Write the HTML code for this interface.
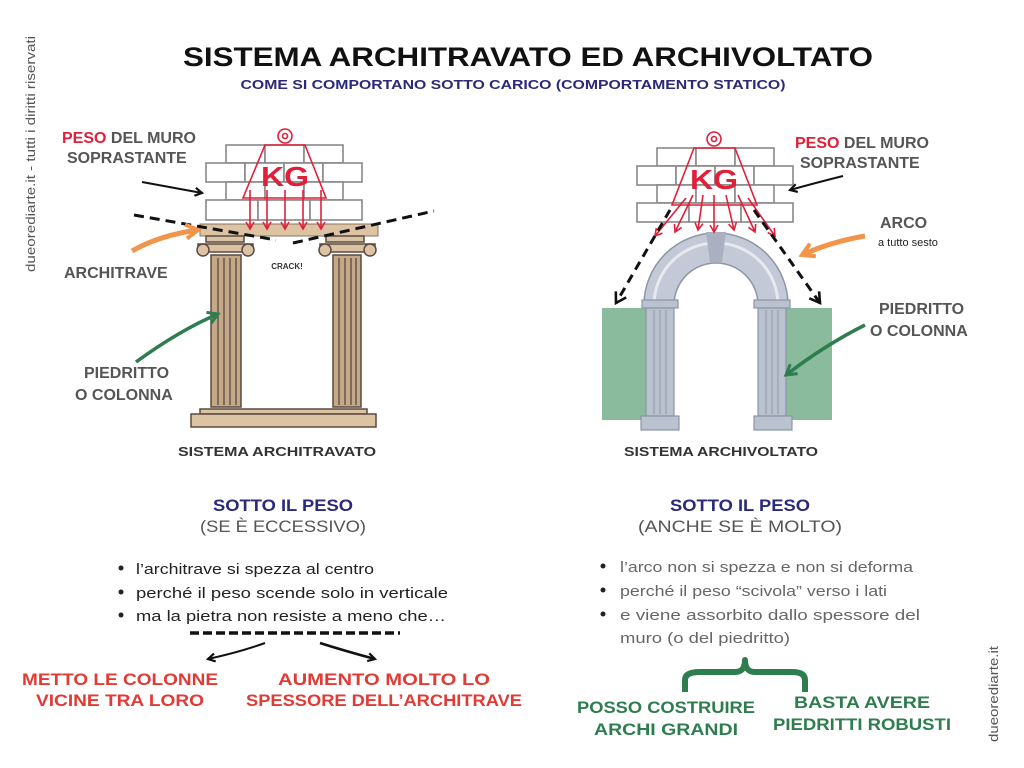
<!DOCTYPE html>
<html><head><meta charset="utf-8"><style>
html,body{margin:0;padding:0;background:#fff;}
svg{display:block;font-family:"Liberation Sans",sans-serif;}
</style></head><body>
<svg width="1024" height="768" viewBox="0 0 1024 768" xmlns="http://www.w3.org/2000/svg">
<defs>
<marker id="ab" markerWidth="10" markerHeight="10" refX="8" refY="5" orient="auto" markerUnits="userSpaceOnUse"><path d="M1,1 L8,5 L1,9" fill="none" stroke="#111" stroke-width="2.2"/></marker>
<marker id="ar" markerWidth="10" markerHeight="10" refX="8" refY="5" orient="auto" markerUnits="userSpaceOnUse"><path d="M1,1 L8,5 L1,9" fill="none" stroke="#e0203a" stroke-width="1.6"/></marker>
<marker id="ao" markerWidth="18" markerHeight="18" refX="14" refY="9" orient="auto" markerUnits="userSpaceOnUse"><path d="M2,2 L14,9 L2,16" fill="none" stroke="#f2954a" stroke-width="4"/></marker>
<marker id="ag" markerWidth="16" markerHeight="16" refX="12" refY="8" orient="auto" markerUnits="userSpaceOnUse"><path d="M2,2 L12,8 L2,14" fill="none" stroke="#2e7d4f" stroke-width="3"/></marker>
<marker id="ad" markerWidth="16" markerHeight="16" refX="12" refY="8" orient="auto" markerUnits="userSpaceOnUse"><path d="M2,2 L12,8 L2,14" fill="none" stroke="#111" stroke-width="2.6"/></marker>
</defs>

<text x="528" y="66" text-anchor="middle" font-size="27" font-weight="bold" fill="#111" textLength="690" lengthAdjust="spacingAndGlyphs">SISTEMA ARCHITRAVATO ED ARCHIVOLTATO</text>
<text x="513" y="89" text-anchor="middle" font-size="13" font-weight="bold" fill="#2b2a7a" textLength="545" lengthAdjust="spacingAndGlyphs">COME SI COMPORTANO SOTTO CARICO (COMPORTAMENTO STATICO)</text>

<text transform="translate(35,272) rotate(-90)" font-size="13" fill="#555" textLength="236" lengthAdjust="spacingAndGlyphs">dueorediarte.it - tutti i diritti riservati</text>
<text transform="translate(998,742) rotate(-90)" font-size="13" fill="#555" textLength="96" lengthAdjust="spacingAndGlyphs">dueorediarte.it</text>

<!-- LEFT DIAGRAM -->
<g stroke="#888" stroke-width="1.6" fill="#fff">
<rect x="226" y="145" width="39" height="18"/><rect x="265" y="145" width="39" height="18"/><rect x="304" y="145" width="39" height="18"/>
<rect x="206" y="163" width="39" height="19"/><rect x="245" y="163" width="39" height="19"/><rect x="284" y="163" width="39" height="19"/><rect x="323" y="163" width="39" height="19"/>
<rect x="226" y="182" width="39" height="18"/><rect x="265" y="182" width="39" height="18"/><rect x="304" y="182" width="39" height="18"/>
<rect x="206" y="200" width="52" height="20"/><rect x="258" y="200" width="52" height="20"/><rect x="310" y="200" width="52" height="20"/>
</g>
<rect x="200" y="224" width="178" height="12" fill="#dcc3a3" stroke="#8a7360"/>
<g fill="#dcc3a3" stroke="#5a4a40" stroke-width="1.5">
<rect x="206" y="236" width="38" height="6"/><rect x="326" y="236" width="38" height="6"/>
<path d="M198,244 h55 v8 h-55z"/><path d="M320,244 h55 v8 h-55z"/>
<circle cx="203" cy="250" r="6"/><circle cx="248" cy="250" r="6"/><circle cx="325" cy="250" r="6"/><circle cx="370" cy="250" r="6"/>
<rect x="211" y="255" width="30" height="152" fill="#c4a888"/><rect x="333" y="255" width="28" height="152" fill="#c4a888"/>
<rect x="200" y="409" width="167" height="5"/><rect x="191" y="414" width="185" height="13"/>
</g>
<g stroke="#5a4a40" stroke-width="1.3"><line x1="218" y1="258" x2="218" y2="405"/><line x1="224" y1="258" x2="224" y2="405"/><line x1="230" y1="258" x2="230" y2="405"/><line x1="236" y1="258" x2="236" y2="405"/>
<line x1="339" y1="258" x2="339" y2="405"/><line x1="345" y1="258" x2="345" y2="405"/><line x1="351" y1="258" x2="351" y2="405"/><line x1="356" y1="258" x2="356" y2="405"/></g>
<g stroke="#e0203a" stroke-width="1.6" fill="none">
<circle cx="285" cy="136" r="7"/><circle cx="285" cy="136" r="2.5"/>
<path d="M265,145 L305,145 L326,198 L243,198 Z"/>
<line x1="250" y1="190" x2="250" y2="229" marker-end="url(#ar)"/><line x1="267" y1="190" x2="267" y2="229" marker-end="url(#ar)"/><line x1="285" y1="190" x2="285" y2="229" marker-end="url(#ar)"/><line x1="303" y1="190" x2="303" y2="229" marker-end="url(#ar)"/><line x1="321" y1="190" x2="321" y2="229" marker-end="url(#ar)"/>
</g>
<text x="285" y="186" text-anchor="middle" font-size="28" font-weight="bold" fill="#e0203a" textLength="48" lengthAdjust="spacingAndGlyphs">KG</text>
<path d="M134,215 L276,240" stroke="#111" stroke-width="3" stroke-dasharray="10,6"/>
<path d="M293,243 L434,211" stroke="#111" stroke-width="3" stroke-dasharray="10,6"/>
<text x="287" y="269" text-anchor="middle" font-size="8" font-weight="bold" fill="#333">CRACK!</text>
<path d="M142,182 Q175,188 202,193" stroke="#111" stroke-width="2" fill="none" marker-end="url(#ab)"/>
<path d="M132,251 Q160,235 198,230" stroke="#f2954a" stroke-width="5" fill="none" marker-end="url(#ao)"/>
<path d="M136,362 Q180,330 218,314" stroke="#2e7d4f" stroke-width="3.5" fill="none" marker-end="url(#ag)"/>
<text x="62" y="143" font-size="16" font-weight="bold" fill="#e0203a">PESO <tspan fill="#555">DEL MURO</tspan></text>
<text x="67" y="163" font-size="16" font-weight="bold" fill="#555">SOPRASTANTE</text>
<text x="64" y="278" font-size="16" font-weight="bold" fill="#555">ARCHITRAVE</text>
<text x="84" y="378" font-size="16" font-weight="bold" fill="#555">PIEDRITTO</text>
<text x="75" y="400" font-size="16" font-weight="bold" fill="#555">O COLONNA</text>
<text x="277" y="456" text-anchor="middle" font-size="13" font-weight="bold" fill="#333" textLength="198" lengthAdjust="spacingAndGlyphs">SISTEMA ARCHITRAVATO</text>

<!-- RIGHT DIAGRAM -->
<rect x="602" y="308" width="44" height="112" fill="#89bb9c"/>
<rect x="786" y="308" width="46" height="112" fill="#89bb9c"/>
<path d="M644,305 A72,72 0 0 1 788,305 L758,305 A42,42 0 0 0 674,305 Z" fill="#c3c9d6" stroke="#8d95a6" stroke-width="1.5"/>
<path d="M654,305 A62,62 0 0 1 778,305" fill="none" stroke="#e6e9ef" stroke-width="3"/>
<path d="M706,232 L726,232 L722,262 L710,262 Z" fill="#a9b0bf"/>
<g fill="#bac1cf" stroke="#8d95a6" stroke-width="1.2">
<rect x="642" y="300" width="36" height="8"/><rect x="754" y="300" width="36" height="8"/>
<rect x="646" y="308" width="28" height="108"/><rect x="758" y="308" width="28" height="108"/>
<rect x="641" y="416" width="38" height="14"/><rect x="754" y="416" width="38" height="14"/>
</g>
<g stroke="#8d95a6" stroke-width="1"><line x1="654" y1="310" x2="654" y2="414"/><line x1="660" y1="310" x2="660" y2="414"/><line x1="666" y1="310" x2="666" y2="414"/><line x1="766" y1="310" x2="766" y2="414"/><line x1="772" y1="310" x2="772" y2="414"/><line x1="778" y1="310" x2="778" y2="414"/></g>
<g stroke="#888" stroke-width="1.6" fill="#fff">
<rect x="657" y="148" width="39" height="18"/><rect x="696" y="148" width="39" height="18"/><rect x="735" y="148" width="39" height="18"/>
<rect x="637" y="166" width="39" height="19"/><rect x="676" y="166" width="39" height="19"/><rect x="715" y="166" width="39" height="19"/><rect x="754" y="166" width="39" height="19"/>
<rect x="657" y="185" width="39" height="18"/><rect x="696" y="185" width="39" height="18"/><rect x="735" y="185" width="39" height="18"/>
<rect x="637" y="203" width="52" height="19"/><rect x="689" y="203" width="52" height="19"/><rect x="741" y="203" width="52" height="19"/>
</g>
<g stroke="#e0203a" stroke-width="1.6" fill="none">
<circle cx="714" cy="139" r="7"/><circle cx="714" cy="139" r="2.5"/>
<path d="M694,148 L735,148 L757,205 L672,205 Z"/>
<path d="M686,198 L655,236" marker-end="url(#ar)"/><path d="M693,195 L675,232" marker-end="url(#ar)"/><path d="M703,195 L698,230" marker-end="url(#ar)"/><path d="M714,195 L714,232" marker-end="url(#ar)"/><path d="M726,195 L734,230" marker-end="url(#ar)"/><path d="M738,195 L755,232" marker-end="url(#ar)"/><path d="M748,198 L775,236" marker-end="url(#ar)"/>
</g>
<text x="714" y="189" text-anchor="middle" font-size="28" font-weight="bold" fill="#e0203a" textLength="48" lengthAdjust="spacingAndGlyphs">KG</text>
<path d="M670,210 L616,303" stroke="#111" stroke-width="3" stroke-dasharray="9,6" fill="none" marker-end="url(#ad)"/>
<path d="M754,210 L820,303" stroke="#111" stroke-width="3" stroke-dasharray="9,6" fill="none" marker-end="url(#ad)"/>
<path d="M843,176 Q815,183 790,190" stroke="#111" stroke-width="2" fill="none" marker-end="url(#ab)"/>
<path d="M865,236 Q830,242 802,255" stroke="#f2954a" stroke-width="5" fill="none" marker-end="url(#ao)"/>
<path d="M865,325 Q825,345 786,375" stroke="#2e7d4f" stroke-width="3.5" fill="none" marker-end="url(#ag)"/>
<text x="795" y="148" font-size="16" font-weight="bold" fill="#e0203a">PESO <tspan fill="#555">DEL MURO</tspan></text>
<text x="800" y="168" font-size="16" font-weight="bold" fill="#555">SOPRASTANTE</text>
<text x="880" y="228" font-size="16" font-weight="bold" fill="#555">ARCO</text>
<text x="878" y="246" font-size="11" fill="#222">a tutto sesto</text>
<text x="879" y="314" font-size="16" font-weight="bold" fill="#555">PIEDRITTO</text>
<text x="870" y="336" font-size="16" font-weight="bold" fill="#555">O COLONNA</text>
<text x="721" y="456" text-anchor="middle" font-size="13" font-weight="bold" fill="#333" textLength="194" lengthAdjust="spacingAndGlyphs">SISTEMA ARCHIVOLTATO</text>

<!-- LOWER LEFT -->
<text x="283" y="511" text-anchor="middle" font-size="17" font-weight="bold" fill="#2b2a7a" textLength="140" lengthAdjust="spacingAndGlyphs">SOTTO IL PESO</text>
<text x="283" y="532" text-anchor="middle" font-size="17" fill="#555" textLength="166" lengthAdjust="spacingAndGlyphs">(SE È ECCESSIVO)</text>
<g font-size="15" fill="#222">
<circle cx="121" cy="568" r="2.5"/><text x="136" y="574" textLength="238" lengthAdjust="spacingAndGlyphs">l’architrave si spezza al centro</text>
<circle cx="121" cy="592" r="2.5"/><text x="136" y="598" textLength="312" lengthAdjust="spacingAndGlyphs">perché il peso scende solo in verticale</text>
<circle cx="121" cy="615" r="2.5"/><text x="136" y="621" textLength="310" lengthAdjust="spacingAndGlyphs">ma la pietra non resiste a meno che…</text>
</g>
<path d="M190,633 L400,633" stroke="#111" stroke-width="3.5" stroke-dasharray="9,4"/>
<path d="M265,643 Q240,652 208,659" stroke="#111" stroke-width="2" fill="none" marker-end="url(#ab)"/>
<path d="M320,643 Q345,651 375,659" stroke="#111" stroke-width="2.5" fill="none" marker-end="url(#ab)"/>
<g font-size="17" font-weight="bold" fill="#e23a35" text-anchor="middle">
<text x="120" y="685" textLength="196" lengthAdjust="spacingAndGlyphs">METTO LE COLONNE</text>
<text x="120" y="706" textLength="168" lengthAdjust="spacingAndGlyphs">VICINE TRA LORO</text>
<text x="384" y="685" textLength="212" lengthAdjust="spacingAndGlyphs">AUMENTO MOLTO  LO</text>
<text x="384" y="706" textLength="276" lengthAdjust="spacingAndGlyphs">SPESSORE DELL’ARCHITRAVE</text>
</g>

<!-- LOWER RIGHT -->
<text x="740" y="511" text-anchor="middle" font-size="17" font-weight="bold" fill="#2b2a7a" textLength="140" lengthAdjust="spacingAndGlyphs">SOTTO IL PESO</text>
<text x="740" y="532" text-anchor="middle" font-size="17" fill="#555" textLength="204" lengthAdjust="spacingAndGlyphs">(ANCHE SE È MOLTO)</text>
<g font-size="15" fill="#666">
<circle cx="603" cy="566" r="2.5" fill="#222"/><text x="620" y="572" textLength="293" lengthAdjust="spacingAndGlyphs">l’arco non si spezza e non si deforma</text>
<circle cx="603" cy="590" r="2.5" fill="#222"/><text x="620" y="596" textLength="267" lengthAdjust="spacingAndGlyphs">perché il peso “scivola” verso i lati</text>
<circle cx="603" cy="614" r="2.5" fill="#222"/><text x="620" y="620" textLength="300" lengthAdjust="spacingAndGlyphs">e viene assorbito dallo spessore del</text>
<text x="620" y="643" textLength="170" lengthAdjust="spacingAndGlyphs">muro (o del piedritto)</text>
</g>
<path d="M685,692 L685,680 Q685,672 700,672 L735,672 Q745,672 745,660 Q745,672 755,672 L792,672 Q805,672 805,680 L805,692" stroke="#2e7d4f" stroke-width="6" fill="none" stroke-linejoin="round"/>
<g font-size="17" font-weight="bold" fill="#2e7d4f" text-anchor="middle">
<text x="666" y="713" textLength="178" lengthAdjust="spacingAndGlyphs">POSSO COSTRUIRE</text>
<text x="666" y="735" textLength="144" lengthAdjust="spacingAndGlyphs">ARCHI GRANDI</text>
<text x="862" y="708" textLength="136" lengthAdjust="spacingAndGlyphs">BASTA AVERE</text>
<text x="862" y="730" textLength="178" lengthAdjust="spacingAndGlyphs">PIEDRITTI ROBUSTI</text>
</g>
</svg>
</body></html>
